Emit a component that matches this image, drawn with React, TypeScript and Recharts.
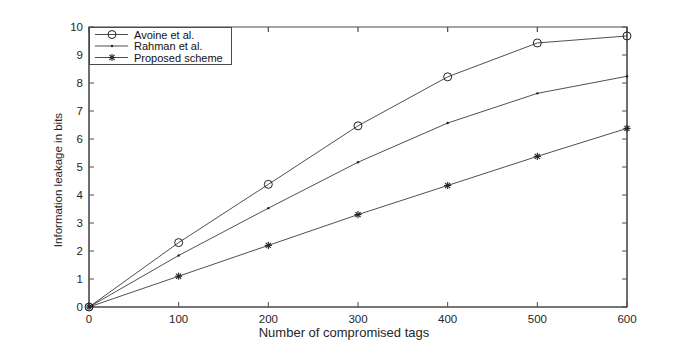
import React from "react";
import { LineChart, Line, XAxis, YAxis, Legend, ReferenceLine, ReferenceArea } from "recharts";

const tags = [0, 100, 200, 300, 400, 500, 600];
const avoine = [0, 2.3, 4.38, 6.47, 8.22, 9.43, 9.68];
const rahman = [0, 1.84, 3.53, 5.17, 6.57, 7.63, 8.24];
const proposed = [0, 1.1, 2.2, 3.3, 4.34, 5.38, 6.38];

const xTicks = [0, 100, 200, 300, 400, 500, 600];
const yTicks = [0, 1, 2, 3, 4, 5, 6, 7, 8, 9, 10];

const data = tags.map((t, i) => ({
  tags: t,
  avoine: avoine[i],
  rahman: rahman[i],
  proposed: proposed[i],
}));

const INK = "#222";
const AXIS = "#4a4a4a";
const FONT = "'Liberation Sans', Arial, Helvetica, sans-serif";

type Mark = "circle" | "dot" | "star";

function marker(kind: Mark, cx: number, cy: number, key?: string) {
  if (kind === "circle") {
    return <circle key={key} cx={cx} cy={cy} r={4} fill="none" stroke={INK} strokeWidth={1} />;
  }
  if (kind === "dot") {
    return <circle key={key} cx={cx} cy={cy} r={1.2} fill={INK} />;
  }
  const r = 3.6;
  const d = r * Math.SQRT1_2;
  return (
    <g key={key} stroke={INK} strokeWidth={1.1}>
      <line x1={cx - r} y1={cy} x2={cx + r} y2={cy} />
      <line x1={cx} y1={cy - r} x2={cx} y2={cy + r} />
      <line x1={cx - d} y1={cy - d} x2={cx + d} y2={cy + d} />
      <line x1={cx - d} y1={cy + d} x2={cx + d} y2={cy - d} />
    </g>
  );
}

const series: { key: string; label: string; mark: Mark }[] = [
  { key: "avoine", label: "Avoine et al.", mark: "circle" },
  { key: "rahman", label: "Rahman et al.", mark: "dot" },
  { key: "proposed", label: "Proposed scheme", mark: "star" },
];

function LegendBox() {
  return (
    <svg width={143} height={38} style={{ display: "block" }}>
      <rect x={0.5} y={0.5} width={142} height={37} fill="#fff" stroke={AXIS} strokeWidth={1} />
      {series.map((s, i) => {
        const y = 7.5 + i * 11.5;
        return (
          <g key={s.key}>
            <line x1={6} y1={y} x2={39} y2={y} stroke={INK} strokeWidth={0.8} />
            {marker(s.mark, 23, y)}
            <text x={45} y={y} dominantBaseline="central" fontSize={11} fill="#111" fontFamily={FONT}>
              {s.label}
            </text>
          </g>
        );
      })}
    </svg>
  );
}

export default function App() {
  return (
    <div style={{ position: "absolute", left: 0, top: 0, width: 692, height: 346, background: "#fff", fontFamily: FONT }}>
      <LineChart width={692} height={346} data={data} margin={{ top: 27, right: 64, left: 0, bottom: 0 }}>
        <XAxis
          dataKey="tags"
          type="number"
          domain={[0, 600]}
          ticks={xTicks}
          height={39}
          stroke={AXIS}
          tickSize={-5}
          tickMargin={13}
          tick={{ fontSize: 11.5, fill: "#262626" }}
          label={{
            content: (p: any) => {
              const vb = p.viewBox;
              return (
                <text x={vb.x + vb.width / 2 - 14} y={337} textAnchor="middle" fontSize={13} fill="#262626" fontFamily={FONT}>
                  Number of compromised tags
                </text>
              );
            },
          }}
        />
        <YAxis
          type="number"
          domain={[0, 10]}
          ticks={yTicks}
          width={89}
          stroke={AXIS}
          tickSize={-5}
          tickMargin={11}
          tick={{ fontSize: 11.5, fill: "#262626" }}
          label={{
            content: () => (
              <text
                x={58}
                y={180}
                transform="rotate(-90, 58, 180)"
                textAnchor="middle"
                dominantBaseline="central"
                fontSize={11.5}
                fill="#262626"
                fontFamily={FONT}
              >
                Information leakage in bits
              </text>
            ),
          }}
        />
        <YAxis
          yAxisId="right"
          type="number"
          orientation="right"
          domain={[0, 10]}
          ticks={yTicks}
          width={1}
          stroke={AXIS}
          tickSize={-5}
          tickFormatter={() => ""}
        />
        {/* full frame box around the plot area */}
        <ReferenceArea
          x1={0}
          x2={600}
          y1={0}
          y2={10}
          ifOverflow="extendDomain"
          fill="none"
          fillOpacity={0}
          stroke={AXIS}
          strokeWidth={1.2}
          strokeOpacity={1}
        />
        {/* inward ticks hanging from the top frame */}
        {xTicks.map((t) => (
          <ReferenceLine
            key={`tt-${t}`}
            ifOverflow="extendDomain"
            segment={[
              { x: t, y: 10 },
              { x: t, y: 9.82 },
            ]}
            stroke={AXIS}
            strokeWidth={1.2}
          />
        ))}
        <Legend
          layout="horizontal"
          align="center"
          verticalAlign="middle"
          wrapperStyle={{ left: 89, top: 27, width: "auto", height: "auto", lineHeight: 0 }}
          content={() => <LegendBox />}
        />
        {/* invisible series so the right frame axis gets drawn */}
        <Line
          yAxisId="right"
          dataKey="avoine"
          stroke="none"
          dot={false}
          activeDot={false}
          legendType="none"
          isAnimationActive={false}
        />
        {series.map((s) => (
          <Line
            key={s.key}
            dataKey={s.key}
            type="linear"
            stroke={INK}
            strokeWidth={0.8}
            isAnimationActive={false}
            dot={(p: any) => marker(s.mark, p.cx, p.cy, `${s.key}-${p.index}`)}
            activeDot={false}
          />
        ))}
      </LineChart>
    </div>
  );
}
